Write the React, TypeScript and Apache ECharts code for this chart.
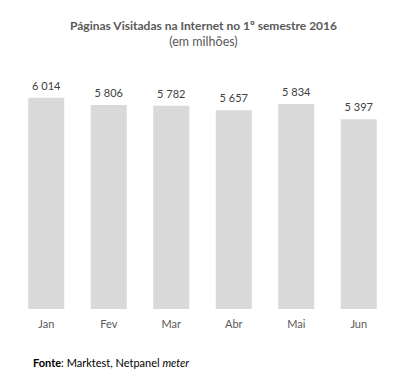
import React, { useEffect, useRef } from "react";
import * as echarts from "echarts";

const categories = ["Jan", "Fev", "Mar", "Abr", "Mai", "Jun"];
const values = [6014, 5806, 5782, 5657, 5834, 5397];
const titleText = "Páginas Visitadas na Internet no 1º semestre 2016";
const subtitleText = "(em milhões)";

const fmt = (v: number) => {
  const s = String(v);
  return s.replace(/\B(?=(\d{3})+(?!\d))/g, " ");
};

export default function App() {
  const ref = useRef<HTMLDivElement>(null);
  useEffect(() => {
    if (!ref.current) return;
    const chart = echarts.init(ref.current, null, { renderer: "svg" });
    const font = "Lato, 'Open Sans', sans-serif";
    chart.setOption({
      animation: false,
      backgroundColor: "#ffffff",
      title: {
        text: titleText,
        subtext: subtitleText,
        left: "center",
        top: 14,
        itemGap: 4,
        textStyle: { fontFamily: font, fontSize: 12, fontWeight: "bold", color: "#595959" },
        subtextStyle: { fontFamily: font, fontSize: 12.5, color: "#595959" },
      },
      grid: { left: 15, right: 17, top: 63, bottom: 75, containLabel: false },
      xAxis: {
        type: "category",
        data: categories,
        axisLine: { show: false },
        axisTick: { show: false },
        axisLabel: { fontFamily: font, fontSize: 11, color: "#595959", margin: 9 },
      },
      yAxis: {
        type: "value",
        min: 0,
        max: 7000,
        show: false,
        splitLine: { show: false },
      },
      series: [
        {
          type: "bar",
          data: values,
          barWidth: "57.6%",
          itemStyle: { color: "#d9d9d9" },
          label: {
            show: true,
            position: "top",
            distance: 7,
            fontFamily: font,
            fontSize: 11,
            color: "#404040",
            formatter: (p: any) => fmt(p.value),
          },
        },
      ],
      graphic: [
        {
          type: "text",
          left: 33,
          top: 357,
          style: {
            text: "{b|Fonte}: Marktest, Netpanel {i|meter}",
            fontFamily: font,
            fontSize: 11,
            fill: "#000000",
            rich: {
              b: { fontWeight: "bold", fontFamily: font, fontSize: 11, fill: "#000000" },
              i: { fontStyle: "italic", fontFamily: font, fontSize: 11, fill: "#000000" },
            },
          },
        },
      ],
    });
    return () => chart.dispose();
  }, []);
  return (
    <div
      ref={ref}
      style={{ position: "fixed", left: 0, top: 0, width: 407, height: 384 }}
    />
  );
}
